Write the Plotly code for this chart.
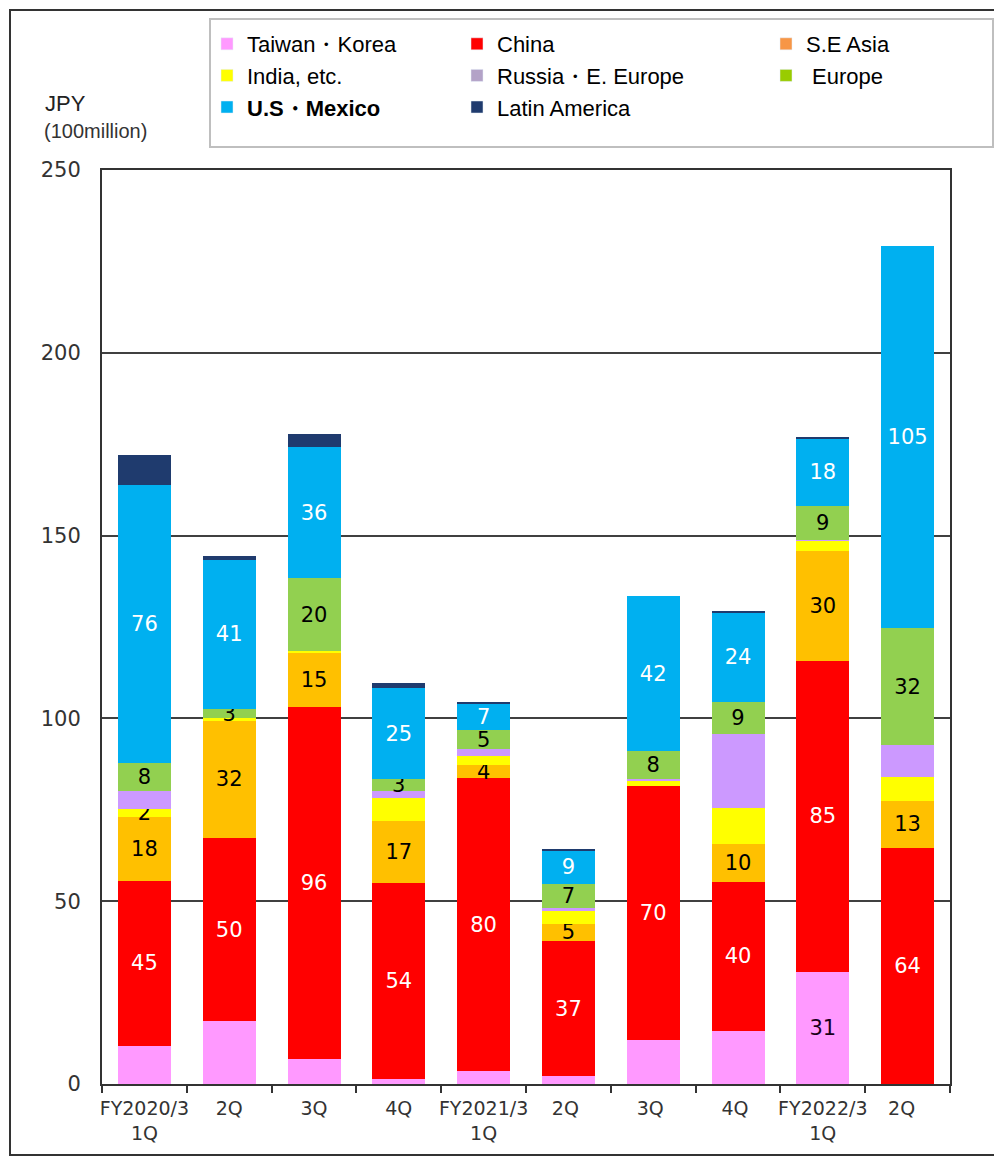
import plotly.graph_objects as go

# ---------------- data ----------------
categories = ["FY2020/3<br>1Q", "2Q", "3Q", "4Q", "FY2021/3<br>1Q", "2Q ", "3Q ", "4Q ", "FY2022/3<br>1Q", "2Q  "]

taiwan_korea = [10.5, 17.3, 6.9, 1.3, 3.6, 2.2, 12.0, 14.6, 30.6, 0]
china        = [45.0, 49.9, 96.1, 53.8, 80.0, 36.9, 69.6, 40.6, 85.2, 64.6]
se_asia      = [17.6, 32.2, 14.8, 16.8, 3.6, 4.7, 0, 10.4, 30.0, 12.9]
india        = [2.1, 0.6, 0.6, 6.4, 2.5, 3.5, 1.4, 10.0, 2.8, 6.6]
russia       = [4.9, 0, 0, 1.8, 1.9, 0.9, 0.5, 20.0, 0.3, 8.5]
europe       = [7.8, 2.6, 19.9, 3.2, 5.2, 6.4, 7.5, 8.8, 9.2, 32.0]
us_mexico    = [75.9, 40.8, 35.9, 25.1, 7.3, 9.3, 42.5, 24.6, 18.5, 104.7]
latin_am     = [8.2, 0.9, 3.6, 1.4, 0.3, 0.5, 0, 0.3, 0.3, 0]

# segment labels as printed on the chart
lbl_taiwan = ["", "", "", "", "", "", "", "", "31", ""]
lbl_china  = ["45", "50", "96", "54", "80", "37", "70", "40", "85", "64"]
lbl_seasia = ["18", "32", "15", "17", "4", "5", "", "10", "30", "13"]
lbl_india  = ["2", "", "", "", "", "", "", "", "", ""]
lbl_russia = [""] * 10
lbl_europe = ["8", "3", "20", "3", "5", "7", "8", "9", "9", "32"]
lbl_us     = ["76", "41", "36", "25", "7", "9", "42", "24", "18", "105"]
lbl_latin  = [""] * 10

series = [
    # name, values, labels, bar colour, legend colour, label colour, legend id
    ("Taiwan・Korea", taiwan_korea, lbl_taiwan, "#FF99FF", "#FF99FF", "#1a001a", "legend"),
    ("China", china, lbl_china, "#FF0000", "#FF0000", "white", "legend2"),
    ("S.E Asia", se_asia, lbl_seasia, "#FFC000", "#F79646", "black", "legend3"),
    ("India, etc.", india, lbl_india, "#FFFF00", "#FFFF00", "black", "legend"),
    ("Russia・E. Europe", russia, lbl_russia, "#CC99FF", "#B3A2C7", "black", "legend2"),
    (" Europe", europe, lbl_europe, "#92D050", "#99CC00", "black", "legend3"),
    ("<b>U.S・Mexico</b>", us_mexico, lbl_us, "#00B0F0", "#00B0F0", "white", "legend"),
    ("Latin America", latin_am, lbl_latin, "#1F3B6E", "#1F3B6E", "white", "legend2"),
]

FONT = "Liberation Sans, Arial, sans-serif"
NUMFONT = "DejaVu Sans, sans-serif"

fig = go.Figure()
for name, vals, lbls, col, lcol, tcol, leg in series:
    fig.add_trace(go.Bar(
        x=categories, y=vals, name=name, text=lbls,
        marker=dict(color=col, line=dict(width=0)),
        textposition="inside", insidetextanchor="middle", textangle=0,
        constraintext="none",
        textfont=dict(family=NUMFONT, size=21, color=tcol),
        showlegend=False, hoverinfo="skip",
    ))
# legend entries (legend swatches use the legend palette)
for i, (name, vals, lbls, col, lcol, tcol, leg) in enumerate(series):
    fig.add_trace(go.Bar(
        x=[None], y=[None], name=name, legend=leg, legendgroup="g%d" % i,
        marker=dict(color=lcol), showlegend=True, hoverinfo="skip",
    ))

# page offset (body margin) compensation
OFF = 8
W, H = 1002 - OFF, 1158 - OFF
PL, PR, PT, PB = 102, 950, 170, 1084   # plot area in reference pixels
L, T = PL - OFF, PT - OFF
R, B = W - (PR - OFF), H - (PB - OFF)
pw, ph = PR - PL, PB - PT

def px_x(p):
    return (p - PL) / pw

def px_y(p):
    return (PB - p) / ph

legend_common = dict(
    font=dict(family=FONT, size=22, color="black"),
    bgcolor="rgba(0,0,0,0)", borderwidth=0, orientation="v",
    traceorder="normal", yanchor="top", xanchor="left", tracegroupgap=3,
    itemclick=False, itemdoubleclick=False,
)

fig.update_layout(
    width=W, height=H,
    margin=dict(l=L, r=R, t=T, b=B, autoexpand=False),
    paper_bgcolor="white", plot_bgcolor="white",
    barmode="stack", bargap=0.375,
    font=dict(family=FONT, color="#333333"),
    legend=dict(x=px_x(207), y=px_y(23), **legend_common),
    legend2=dict(x=px_x(457), y=px_y(23), **legend_common),
    legend3=dict(x=px_x(766), y=px_y(23), **legend_common),
    xaxis=dict(
        type="category", showline=True, linecolor="#333333", linewidth=2, mirror=True,
        ticks="outside", tickson="boundaries", ticklen=7, tickcolor="#333333", tickwidth=1.5,
        tickangle=0, automargin=False, ticklabelstandoff=6,
        tickfont=dict(family=NUMFONT, size=19, color="#333333"),
        showgrid=False,
    ),
    yaxis=dict(
        range=[0, 250], dtick=50, showline=True, linecolor="#333333", linewidth=2, mirror=True,
        showgrid=True, gridcolor="#404040", gridwidth=1.5, zeroline=False,
        ticks="", ticklabelstandoff=15, automargin=False,
        tickfont=dict(family=NUMFONT, size=21, color="#333333"),
    ),
    shapes=[
        # outer frame
        dict(type="rect", xref="paper", yref="paper",
             x0=px_x(10), x1=px_x(997), y0=px_y(1155), y1=px_y(10),
             line=dict(color="#333333", width=2), fillcolor="rgba(0,0,0,0)"),
        # legend box
        dict(type="rect", xref="paper", yref="paper",
             x0=px_x(210), x1=px_x(993), y0=px_y(147), y1=px_y(19),
             line=dict(color="#BFBFBF", width=2), fillcolor="rgba(0,0,0,0)"),
    ],
    annotations=[
        dict(text="JPY", xref="paper", yref="paper", x=px_x(43), y=px_y(103),
             xanchor="left", yanchor="middle", showarrow=False,
             font=dict(family=FONT, size=22, color="#222222")),
        dict(text="(100million)", xref="paper", yref="paper", x=px_x(42), y=px_y(131),
             xanchor="left", yanchor="middle", showarrow=False,
             font=dict(family=FONT, size=20, color="#333333")),
    ],
)

fig.write_html("out.html")
